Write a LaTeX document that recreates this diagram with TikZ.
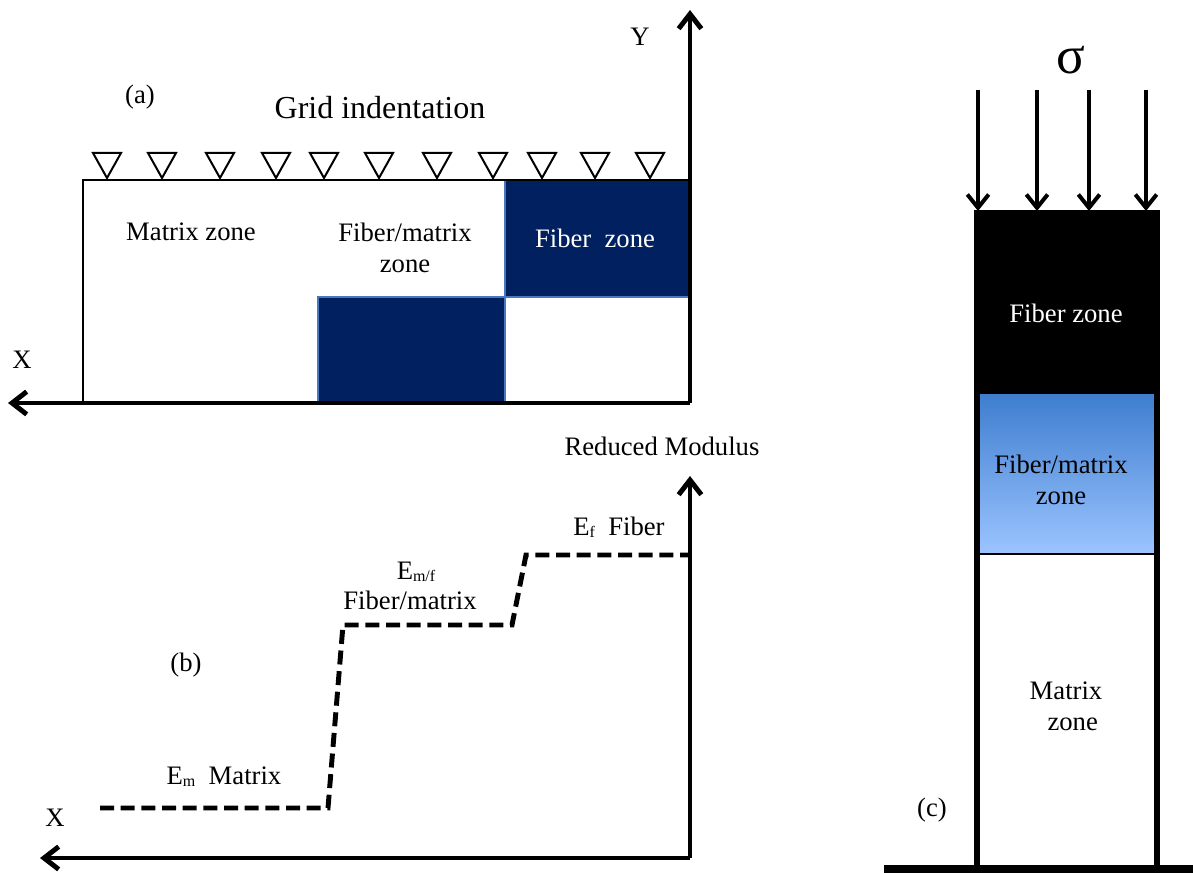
\documentclass[tikz,border=0pt]{standalone}
\usepackage{fontspec}
\setmainfont{Liberation Serif}
\usetikzlibrary{arrows.meta}
\definecolor{navy}{HTML}{002060}
\definecolor{navyedge}{HTML}{4A78C0}
\definecolor{bluetop}{HTML}{3F7ECF}
\definecolor{bluebot}{HTML}{9CC4FF}
\tikzset{
  axis/.style={line width=3.7pt,-{Straight Barb[length=11pt,width=17pt]}},
  load/.style={line width=3pt,-{Straight Barb[length=10pt,width=16pt]}},
  edge/.style={line width=2.2pt},
  tri/.style={line width=1.5pt,fill=white},
  lbl/.style={font=\fontsize{20}{23}\selectfont,inner sep=0pt,align=center},
  steps/.style={line width=3.7pt,dash pattern=on 10.5pt off 5pt},
}
\newcommand{\sbs}[1]{\raisebox{-1.5pt}{\fontsize{12}{12}\selectfont #1}}
\begin{document}
\begin{tikzpicture}[x=0.75pt,y=-0.75pt]
\useasboundingbox (0,0) rectangle (1193,873);
% ---------- panel (a) ----------
\fill[navy,draw=navyedge,line width=0.8pt] (505,180) rectangle (690,297);
\fill[navy,draw=navyedge,line width=0.8pt] (318,297) rectangle (505,403);
\draw[edge] (690,180) -- (83,180) -- (83,403);
\coordinate (aO) at (690,403);
\coordinate (aY) at (690,10);
\coordinate (aX) at (8,403);
\draw[axis] (aO) -- (aY);
\draw[axis] (aO) -- (aX);
\foreach \c in {107,162,220,276,324,379,437,493,542,595,650}
  \draw[tri] (\c-14,153) -- (\c+14,153) -- (\c,178) -- cycle;
\node[lbl] (la) at (140,97) {(a)};
\node[lbl,font=\fontsize{24}{28}\selectfont] (grid) at (380,108) {Grid indentation};
\node[lbl] (mz) at (191,232) {Matrix zone};
\node[lbl] (fmz) at (405,248) {Fiber/matrix\\zone};
\node[lbl,text=white] (fz) at (595,238) {Fiber\ \ zone};
\node[lbl] (xa) at (22,360) {X};
\node[lbl] (ya) at (640,37) {Y};
% ---------- panel (b) ----------
\coordinate (bO) at (690,858);
\coordinate (bY) at (690,476);
\coordinate (bX) at (40,858);
\draw[axis] (bO) -- (bY);
\draw[axis] (bO) -- (bX);
\coordinate (s0) at (100,808);
\coordinate (s1) at (328,808);
\coordinate (s2) at (343,625);
\coordinate (s3) at (512,625);
\coordinate (s4) at (526,555);
\coordinate (s5) at (688,555);
\draw[steps] (s0) -- (s1) -- (s2) -- (s3) -- (s4) -- (s5);
\node[lbl] (rm) at (662,446) {Reduced Modulus};
\node[lbl] (ef) at (619,527) {E\sbs{f}\ \ Fiber};
\node[lbl] (emf) at (416,572) {E\sbs{m/f}};
\node[lbl] (fm) at (410,600) {Fiber/matrix};
\node[lbl] (lb) at (186,665) {(b)};
\node[lbl] (em) at (224,777) {E\sbs{m}\ \ Matrix};
\node[lbl] (xb) at (55,818) {X};
% ---------- panel (c) ----------
\fill[black] (977,210) rectangle (1157,395);
\shade[top color=bluetop,bottom color=bluebot] (977,395) rectangle (1157,554);
\draw[line width=1.2pt] (977,554) -- (1157,554);
\draw[line width=3.8pt] (977,210) -- (977,866);
\draw[line width=3.8pt] (1157,210) -- (1157,866);
\fill[black] (884,865) rectangle (1193,873);
\foreach \x/\n in {978/1,1037/2,1089/3,1146/4}{
  \coordinate (t\n) at (\x,90);
  \coordinate (h\n) at (\x,211);
  \draw[load] (t\n) -- (h\n);
}
\node[lbl,font=\fontsize{40}{40}\selectfont] (sig) at (1071,60) {σ};
\node[lbl,text=white] (cf) at (1066,313) {Fiber zone};
\node[lbl] (cfm) at (1061,480) {Fiber/matrix\\zone};
\node[lbl] (cm) at (1066,706) {Matrix\\\ \ zone};
\node[lbl] (lc) at (932,810) {(c)};
\end{tikzpicture}
\end{document}
